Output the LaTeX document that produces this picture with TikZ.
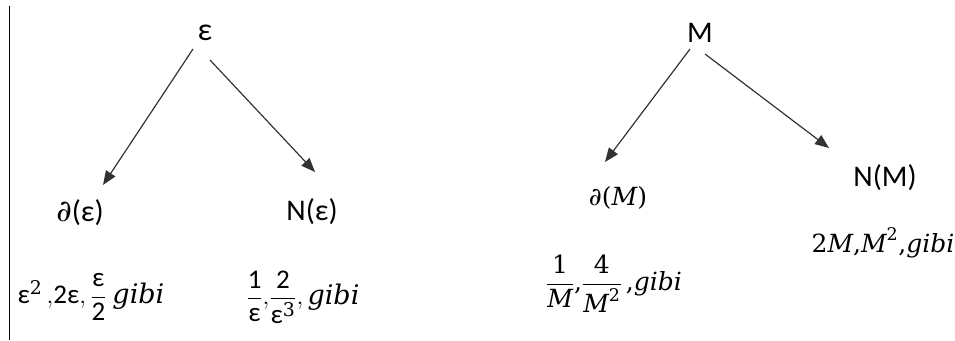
\documentclass[tikz,border=0pt]{standalone}
\usepackage{amsmath}
\usepackage[no-math]{fontspec}
\setmainfont{Carlito}
\newfontfamily\mf{DejaVu Serif}
\usetikzlibrary{arrows.meta}
\newcommand{\ep}{\text{ε}}
\newcommand{\mi}[1]{\text{\mf\itshape #1}}
\newcommand{\mr}[1]{\text{\mf #1}}
\begin{document}
\begin{tikzpicture}[x=1pt,y=-1pt,
  lbl/.style={inner sep=0pt,font=\fontsize{30}{34}\selectfont},
  lblR/.style={inner sep=0pt,font=\fontsize{30}{34}\selectfont},
  mlbl/.style={inner sep=0pt,font=\fontsize{27}{31}\selectfont},
  mlblR/.style={inner sep=0pt,font=\fontsize{25}{29}\selectfont},
  arr/.style={draw=black!80,line width=1.2pt,-{Triangle[length=14pt,width=11pt]}}]
\useasboundingbox (0,0) rectangle (955,340);
\draw[line width=1pt] (9,6) -- (9,340);
% left tree
\node[lbl,font=\fontsize{32}{36}\selectfont] (eps) at (205,33) {ε};
\node[lbl] (deps) at (80,213) {$\mi{∂}$(ε)};
\node[lbl] (Neps) at (312,212) {N(ε)};
\node[mlbl] (feps) at (91,297) {$\ep^{\mr{2}}\,{,}\text{2ε},\dfrac{\ep}{\text{2}}\ \mi{gibi}$};
\node[mlbl] (geps) at (303,297) {$\dfrac{\text{1}}{\ep}{,}\dfrac{\text{2}}{\ep^{\mr{3}}}{,}\,\mi{gibi}$};
\coordinate (a1s) at (193,49);
\coordinate (a1e) at (103,185);
\coordinate (a2s) at (210,60);
\coordinate (a2e) at (315,172);
\draw[arr] (a1s) -- (a1e);
\draw[arr] (a2s) -- (a2e);
% right tree
\node[lblR] (M) at (700,33) {M};
\node[mlblR] (dM) at (618,198) {$\mi{∂}\mr{(}\mi{M}\mr{)}$};
\node[lblR] (NM) at (885,178) {N(M)};
\node[mlblR] (gM) at (883,243) {$\mr{2}\mi{M}\mr{,}\mi{M}^{\mr{2}}\mr{,}\mi{gibi}$};
\node[mlblR] (fM) at (614,284) {$\dfrac{\mr{1}}{\mi{M}}\mr{,}\dfrac{\mr{4}}{\mi{M}^{\mr{2}}}\,\mr{,}\mi{gibi}$};
\coordinate (b1s) at (690,49);
\coordinate (b1e) at (605,162);
\coordinate (b2s) at (705,54);
\coordinate (b2e) at (829,148);
\draw[arr] (b1s) -- (b1e);
\draw[arr] (b2s) -- (b2e);
\end{tikzpicture}
\end{document}
